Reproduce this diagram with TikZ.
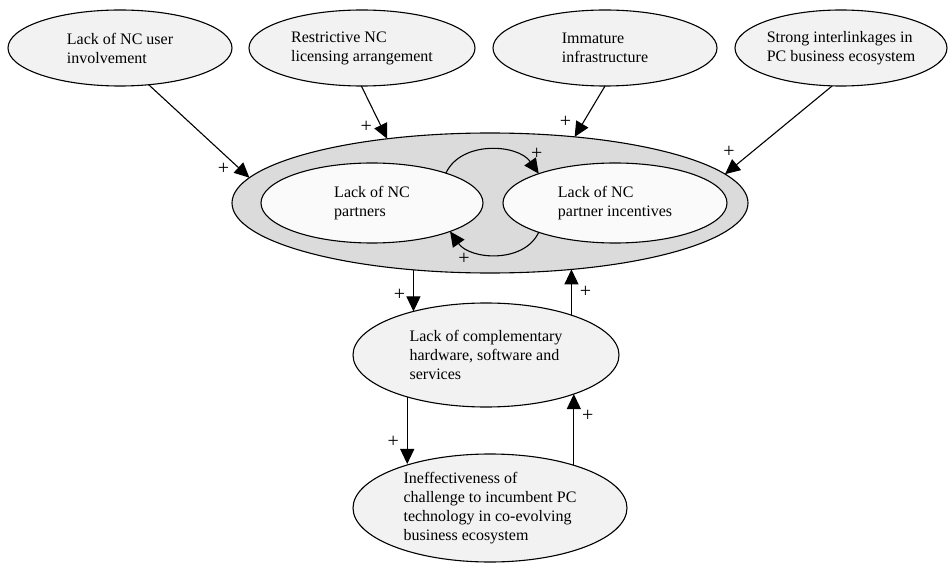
\documentclass[tikz,border=0pt]{standalone}
\usepackage{fontspec}
\setmainfont{Liberation Serif}
\usetikzlibrary{arrows.meta}
\usetikzlibrary{shapes.geometric}

\begin{document}
\begin{tikzpicture}[x=1pt,y=1pt,>={Triangle[length=15pt,width=14pt]},
                    line width=1.1pt,font=\fontsize{16}{19}\selectfont,
                    cause node/.style={ellipse,draw,fill=gray!10,align=left,inner sep=0pt,outer sep=0pt},
                    loop node/.style={ellipse,draw,fill=gray!4,align=left,inner sep=0pt,outer sep=0pt},
                    plus label/.style={inner sep=1pt,font=\fontsize{20}{20}\selectfont}]
  \useasboundingbox (0,0) rectangle (948,-564);

  % outer causes
  \node[cause node,minimum width=224pt,minimum height=76pt] (user) at (120,-48) {Lack of NC user\\involvement};
  \node[cause node,minimum width=226pt,minimum height=76pt] (lic) at (362,-48) {Restrictive NC\\licensing arrangement};
  \node[cause node,minimum width=224pt,minimum height=76pt] (infra) at (605,-48) {Immature\\infrastructure};
  \node[cause node,minimum width=212pt,minimum height=76pt] (link) at (841,-48) {Strong interlinkages in\\PC business ecosystem};

  % the ring with the inner loop
  \node[ellipse,draw,fill=gray!28,inner sep=0pt,outer sep=0pt,minimum width=516pt,minimum height=140pt] (ring) at (490,-203) {};
  \node[loop node,minimum width=222pt,minimum height=80pt] (part) at (372,-203) {Lack of NC\\partners};
  \node[loop node,minimum width=224pt,minimum height=80pt] (inc) at (615,-203) {Lack of NC\\partner incentives};

  % lower chain
  \node[cause node,minimum width=266pt,minimum height=104pt] (comp) at (486,-355) {Lack of complementary\\hardware, software and\\services};
  \node[cause node,minimum width=274pt,minimum height=108pt] (chal) at (490,-508) {Ineffectiveness of\\challenge to incumbent PC\\technology in co-evolving\\business ecosystem};

  \path[->]
    (user.-52) edge node[plus label,pos=1,xshift=-26pt,yshift=9pt] {+} (ring.174)
    (lic.-91) edge node[plus label,pos=1,xshift=-21pt,yshift=12pt] {+} (ring.148)
    (infra.south) edge node[plus label,pos=1,xshift=-9pt,yshift=15pt] {+} (ring.38)
    (link.-103) edge node[plus label,pos=1,xshift=4pt,yshift=22pt] {+} (ring.7)
    (part.22) edge[out=65,in=125] node[plus label,pos=1,xshift=-2pt,yshift=20pt] {+} (inc.159)
    (inc.-159) edge[out=-115,in=-55] node[plus label,pos=1,xshift=14pt,yshift=-27pt] {+} (part.-20)
    (ring.220.5 -| comp.149.7) edge node[plus label,pos=1,xshift=-14pt,yshift=17pt] {+} (comp.149.7)
    (comp.25.2) edge node[plus label,pos=1,xshift=14pt,yshift=-22pt] {+} (ring.-39.4 -| comp.25.2)
    (comp.208.8) edge node[plus label,pos=1,xshift=-14pt,yshift=22pt] {+} (chal.151.7 -| comp.208.8)
    (chal.27.8) edge node[plus label,pos=1,xshift=14pt,yshift=-22pt] {+} (comp.-24.8 -| chal.27.8)
;
\end{tikzpicture}
\end{document}
